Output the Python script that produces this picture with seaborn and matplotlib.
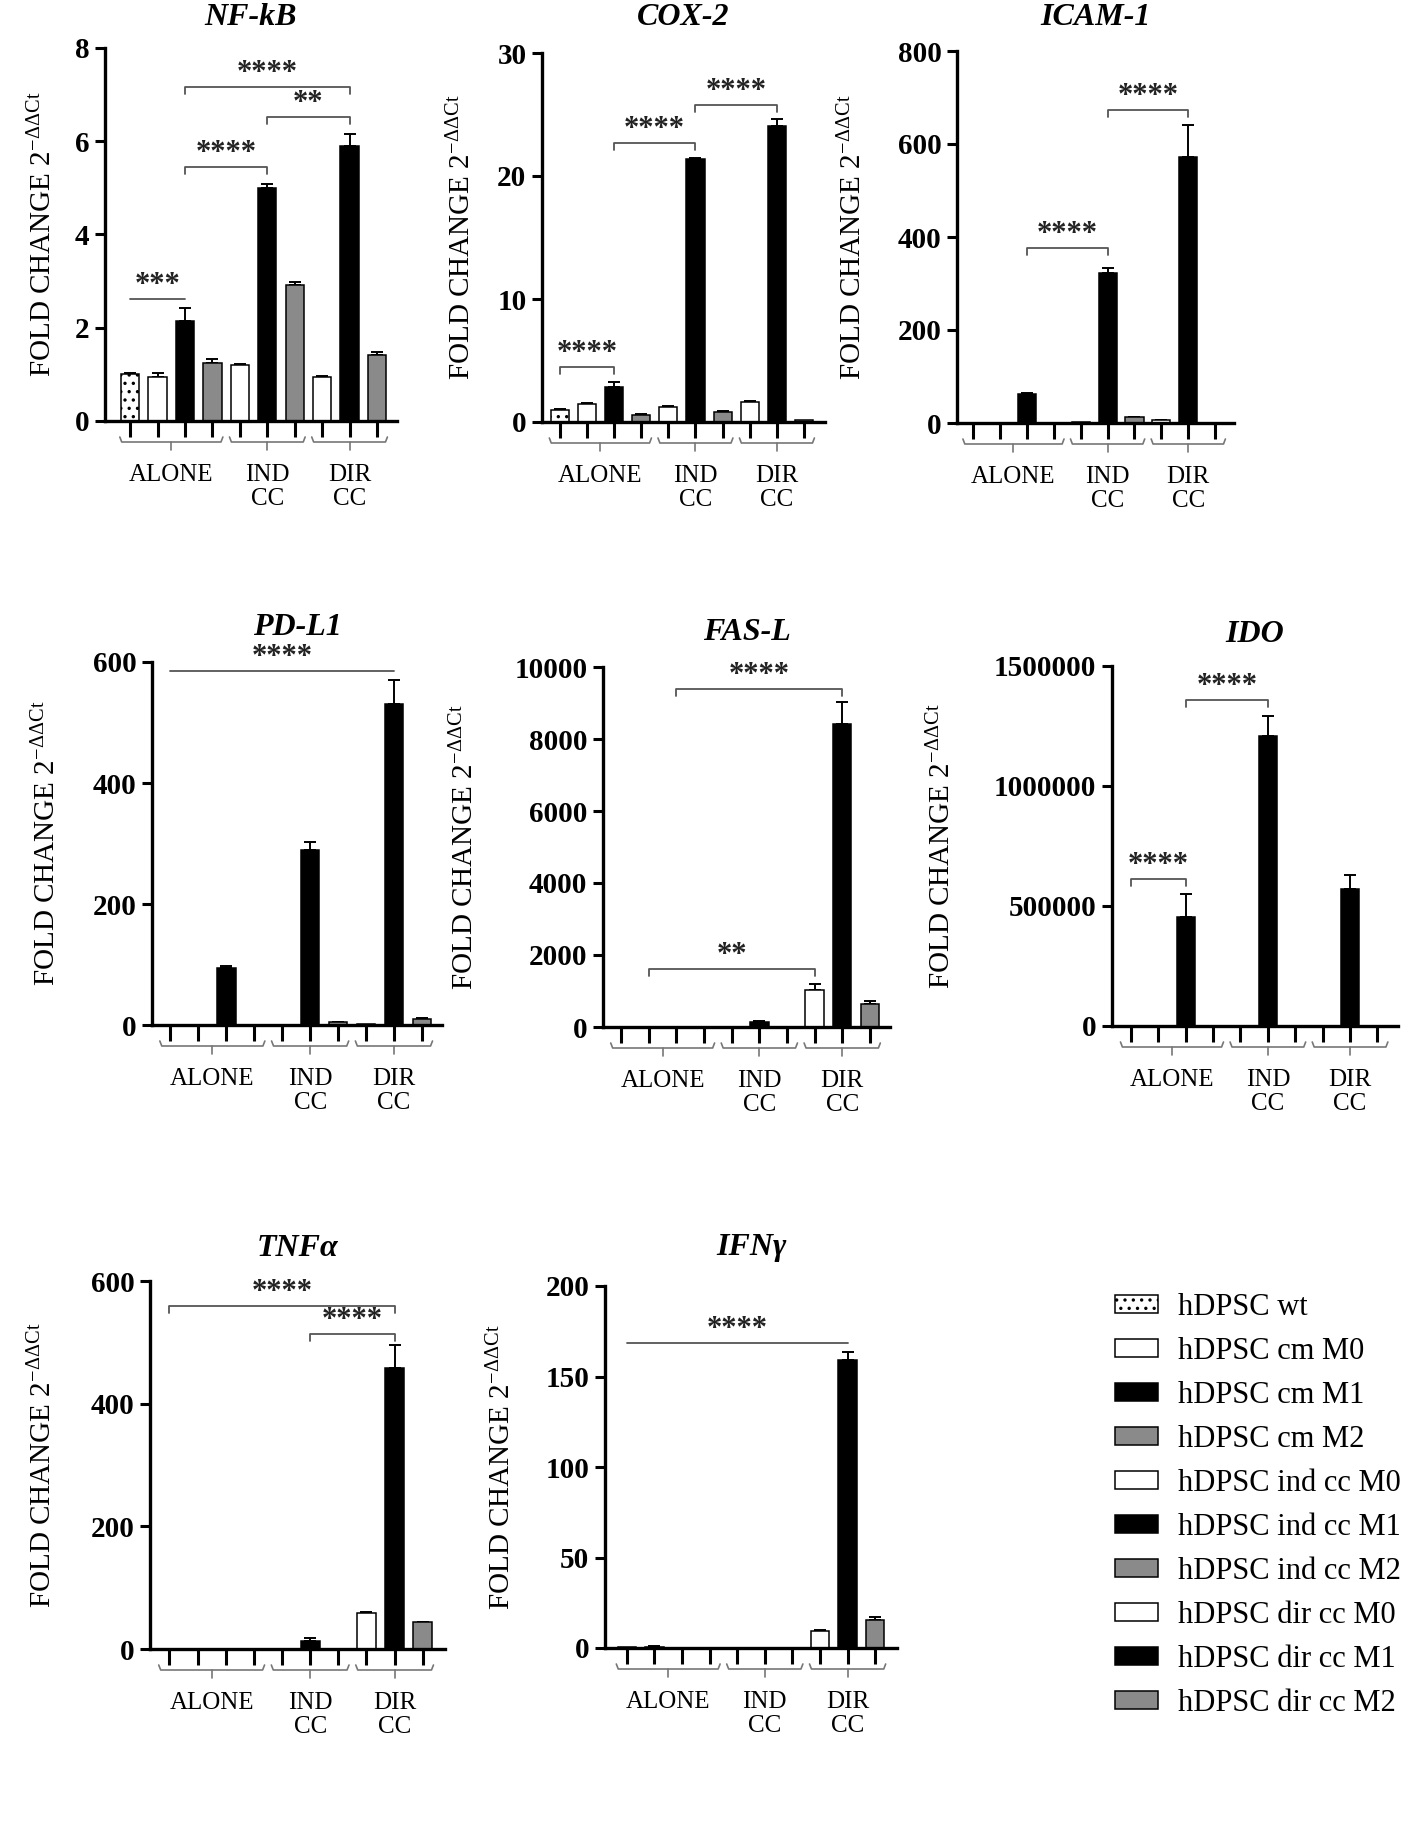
import numpy as np
import pandas as pd
import seaborn as sns
import matplotlib
matplotlib.use("Agg")
import matplotlib.pyplot as plt
import matplotlib.transforms as mtransforms
from matplotlib.patches import Patch

sns.set_theme(style="ticks", rc={
    "axes.edgecolor": "black", "xtick.color": "black", "ytick.color": "black",
    "text.color": "black", "axes.labelcolor": "black",
    "figure.facecolor": "white", "axes.facecolor": "white",
})
plt.rcParams["font.family"] = ["Liberation Serif", "DejaVu Serif"]
plt.rcParams["mathtext.fontset"] = "custom"
plt.rcParams["mathtext.rm"] = "Liberation Serif"
plt.rcParams["mathtext.it"] = "Liberation Serif:italic"
plt.rcParams["mathtext.bf"] = "Liberation Serif:bold"
plt.rcParams["hatch.linewidth"] = 1.2

# ---------------- data ----------------
conditions = ["hDPSC wt", "hDPSC cm M0", "hDPSC cm M1", "hDPSC cm M2",
              "hDPSC ind cc M0", "hDPSC ind cc M1", "hDPSC ind cc M2",
              "hDPSC dir cc M0", "hDPSC dir cc M1", "hDPSC dir cc M2"]
groups = ["ALONE", "IND\nCC", "DIR\nCC"]
group_sizes = [4, 3, 3]
genes = ["NF-kB", "COX-2", "ICAM-1", "PD-L1", "FAS-L", "IDO", "TNF\u03b1", "IFN\u03b3"]
ylabel_text = r"FOLD CHANGE 2$^{\mathrm{-\Delta\Delta Ct}}$"

nfkb_mean = [1.00, 0.95, 2.15, 1.24, 1.20, 5.00, 2.92, 0.95, 5.89, 1.42]
nfkb_sem = [0.02, 0.07, 0.27, 0.10, 0.03, 0.09, 0.07, 0.02, 0.27, 0.07]
nfkb_ticks = [0, 2, 4, 6, 8]

cox2_mean = [1.00, 1.49, 2.85, 0.60, 1.22, 21.4, 0.81, 1.63, 24.07, 0.14]
cox2_sem = [0.05, 0.05, 0.40, 0.05, 0.05, 0.10, 0.05, 0.05, 0.54, 0.0]
cox2_ticks = [0, 10, 20, 30]

icam1_mean = [0.5, 0.5, 62, 0.5, 2, 322, 12, 6, 572, 1]
icam1_sem = [0, 0, 2, 0, 0, 12, 1, 1, 68, 0]
icam1_ticks = [0, 200, 400, 600, 800]

pdl1_mean = [0.3, 0.3, 93.6, 0.3, 0.3, 289, 4.4, 2, 530, 10]
pdl1_sem = [0, 0, 4, 0, 0, 14, 0.5, 0, 40, 1]
pdl1_ticks = [0, 200, 400, 600]

fasl_mean = [2, 2, 2, 2, 10, 139, 10, 1037, 8426, 648]
fasl_sem = [0, 0, 0, 0, 0, 20, 0, 167, 600, 65]
fasl_ticks = [0, 2000, 4000, 6000, 8000, 10000]

ido_mean = [0, 0, 455000, 0, 0, 1210000, 0, 0, 570000, 0]
ido_sem = [0, 0, 93000, 0, 0, 83000, 0, 0, 58000, 0]
ido_ticks = [0, 500000, 1000000, 1500000]

tnf_mean = [0.5, 0.5, 0.5, 0.5, 0.5, 13.6, 0.5, 58.8, 458.6, 43.5]
tnf_sem = [0, 0, 0, 0, 0, 4, 0, 1, 37.5, 1]
tnf_ticks = [0, 200, 400, 600]

ifng_mean = [0.5, 0.8, 0.1, 0.1, 0.1, 0.1, 0.1, 9.4, 159.2, 15.3]
ifng_sem = [0, 0.2, 0, 0, 0, 0, 0, 0.8, 4.4, 1.8]
ifng_ticks = [0, 50, 100, 150, 200]

# significance comparisons: (bar a, bar b, level, label, kind)
nfkb_sig = [(0, 2, 2.62, "***", "line"), (2, 5, 5.45, "****", "bracket"),
            (5, 8, 6.52, "**", "bracket"), (2, 8, 7.16, "****", "bracket")]
cox2_sig = [(0, 2, 4.47, "****", "bracket"), (2, 5, 22.7, "****", "bracket"),
            (5, 8, 25.8, "****", "bracket")]
icam1_sig = [(2, 5, 376, "****", "bracket"), (5, 8, 674, "****", "bracket")]
pdl1_sig = [(0, 8, 584.6, "****", "line")]
fasl_sig = [(1, 7, 1602, "**", "bracket"), (2, 8, 9398, "****", "bracket")]
ido_sig = [(0, 2, 611111, "****", "bracket"), (2, 5, 1358333, "****", "bracket")]
tnf_sig = [(0, 8, 559, "****", "bracket"), (5, 8, 514, "****", "bracket")]
ifng_sig = [(0, 8, 168.4, "****", "line")]

# ---------------- styles ----------------
bar_fill = ["white", "white", "black", "#8a8a8a", "white", "black", "#8a8a8a",
            "white", "black", "#8a8a8a"]
bar_hatch = ["..", "", "", "", "", "", "", "", "", ""]
palette = dict(zip(conditions, bar_fill))

W, H = 1417, 1839
fig = plt.figure(figsize=(W / 100, H / 100), dpi=100)

# layout: rect (left, top, right, bottom) in px, x padding in bar units,
# ylabel centre x px, title baseline y px
panels = [
    dict(gene=genes[0], mean=nfkb_mean, sem=nfkb_sem, ticks=nfkb_ticks, sig=nfkb_sig,
         rect=(105, 48, 397, 421), xpad=(0.92, 0.73), ylx=43, tb=25),
    dict(gene=genes[1], mean=cox2_mean, sem=cox2_sem, ticks=cox2_ticks, sig=cox2_sig,
         rect=(542, 53, 825, 422), xpad=(0.65, 0.77), ylx=462, tb=25),
    dict(gene=genes[2], mean=icam1_mean, sem=icam1_sem, ticks=icam1_ticks, sig=icam1_sig,
         rect=(957, 51, 1234, 423), xpad=(0.60, 0.70), ylx=853, tb=25),
    dict(gene=genes[3], mean=pdl1_mean, sem=pdl1_sem, ticks=pdl1_ticks, sig=pdl1_sig,
         rect=(152, 662, 442, 1025), xpad=(0.66, 0.72), ylx=47, tb=635),
    dict(gene=genes[4], mean=fasl_mean, sem=fasl_sem, ticks=fasl_ticks, sig=fasl_sig,
         rect=(603, 667, 890, 1027), xpad=(0.66, 0.73), ylx=465, tb=640),
    dict(gene=genes[5], mean=ido_mean, sem=ido_sem, ticks=ido_ticks, sig=ido_sig,
         rect=(1112, 666, 1398, 1026), xpad=(0.69, 0.75), ylx=942, tb=642),
    dict(gene=genes[6], mean=tnf_mean, sem=tnf_sem, ticks=tnf_ticks, sig=tnf_sig,
         rect=(150, 1281, 445, 1649), xpad=(0.69, 0.79), ylx=43, tb=1256),
    dict(gene=genes[7], mean=ifng_mean, sem=ifng_sem, ticks=ifng_ticks, sig=ifng_sig,
         rect=(605, 1286, 897, 1648), xpad=(0.79, 0.79), ylx=502, tb=1255),
]

PX = 0.72  # points per pixel at dpi 100

for p in panels:
    l, t, r, b = p["rect"]
    hpx = b - t
    ax = fig.add_axes([l / W, 1 - b / H, (r - l) / W, hpx / H])
    df = pd.DataFrame({"condition": conditions, "fold": p["mean"]})
    sns.barplot(data=df, x="condition", y="fold", hue="condition", order=conditions,
                hue_order=conditions, palette=palette, legend=False, width=0.67,
                edgecolor="black", linewidth=1.1, errorbar=None, saturation=1, ax=ax)
    for bar in ax.patches:
        cx = bar.get_x() + bar.get_width() / 2
        idx = int(round(cx))
        if 0 <= idx < len(bar_hatch) and bar_hatch[idx]:
            bar.set_hatch(bar_hatch[idx])
    pos = np.arange(len(conditions))
    mean = np.array(p["mean"], float)
    sem = np.array(p["sem"], float)
    m = sem > 0
    ax.errorbar(pos[m], mean[m], yerr=[np.zeros(m.sum()), sem[m]], fmt="none",
                ecolor="black", elinewidth=1.4, capsize=4.3, capthick=1.4, zorder=0.9)

    ymax = p["ticks"][-1]
    ax.set_ylim(0, ymax)
    ax.set_xlim(-p["xpad"][0], len(conditions) - 1 + p["xpad"][1])
    ax.set_yticks(p["ticks"], labels=[str(v) for v in p["ticks"]])
    ax.set_xticks(pos, labels=[""] * len(conditions))
    ax.set_xlabel("")
    ax.tick_params(axis="y", length=7.2, width=2.2, labelsize=21, pad=4)
    ax.tick_params(axis="x", length=11.3, width=2.2, direction="out")
    for lab in ax.get_yticklabels():
        lab.set_fontweight("bold")
    for s in ("top", "right"):
        ax.spines[s].set_visible(False)
    for s in ("left", "bottom"):
        ax.spines[s].set_linewidth(2.4)
        ax.spines[s].set_color("black")

    # y label
    ax.set_ylabel(ylabel_text, fontsize=21)
    ax.yaxis.set_label_coords((p["ylx"] - l) / (r - l), 0.5)
    ax.yaxis.label.set_rotation_mode("default")
    ax.yaxis.label.set_va("center")
    ax.yaxis.label.set_ha("center")

    # title
    ax.set_title(p["gene"], fontsize=23, fontweight="bold", fontstyle="italic",
                 y=(b - p["tb"]) / hpx, va="baseline", pad=0)

    # group braces and labels
    blend = mtransforms.blended_transform_factory(ax.transData, ax.transAxes)
    start = 0
    for gname, gs in zip(groups, group_sizes):
        first, last = start, start + gs - 1
        x0, x1 = first - 0.38, last + 0.38
        xm = (first + last) / 2
        yb = -21 / hpx
        yu = -16 / hpx
        c = 0.07
        ax.plot([x0, x0 + c, x1 - c, x1], [yu, yb, yb, yu], transform=blend,
                color="#777777", lw=1.2, clip_on=False, solid_capstyle="round")
        ax.plot([xm, xm], [yb, -29 / hpx], transform=blend, color="#777777",
                lw=1.2, clip_on=False)
        ax.text(xm, -43 / hpx, gname, transform=blend, ha="center", va="top",
                fontsize=18, linespacing=1.1, multialignment="center")
        start += gs

    # significance
    drop = 7 / hpx * ymax
    for a, bb, lev, lab, kind in p["sig"]:
        if kind == "bracket":
            ax.plot([a, a, bb, bb], [lev - drop, lev, lev, lev - drop], color="#555555",
                    lw=1.3, clip_on=False)
        else:
            ax.plot([a, bb], [lev, lev], color="#555555", lw=1.3, clip_on=False)
        ax.annotate(lab, xy=((a + bb) / 2, lev), xytext=(0, 6 * PX),
                    textcoords="offset points", ha="center", va="baseline",
                    fontsize=22, fontweight="bold", color="#222222",
                    annotation_clip=False)

# legend
handles = [Patch(facecolor=c, edgecolor="black", hatch=h, linewidth=1.1)
           for c, h in zip(bar_fill, bar_hatch)]
fig.legend(handles, conditions, loc="upper left",
           bbox_to_anchor=(1115 / W, 1 - 1293 / H), frameon=False, fontsize=22,
           handlelength=1.4, handleheight=0.5, handletextpad=0.65,
           labelspacing=0.49, borderpad=0, borderaxespad=0)

fig.savefig("out.png", dpi=100, facecolor="white")
